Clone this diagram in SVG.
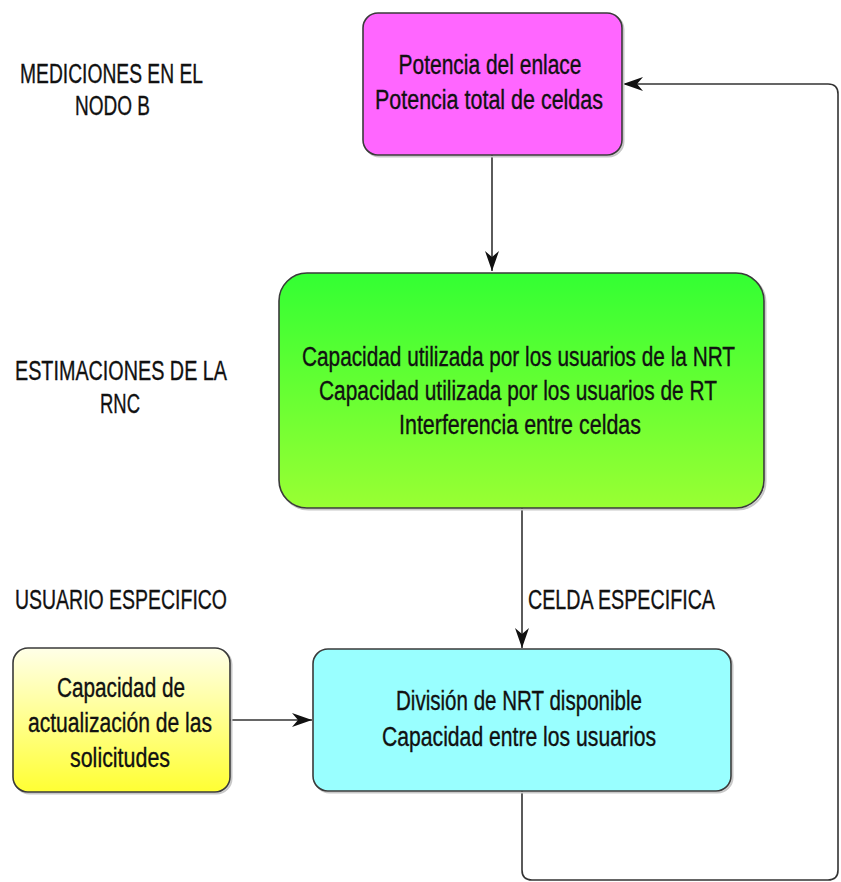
<svg xmlns="http://www.w3.org/2000/svg" width="841" height="882" viewBox="0 0 841 882">
<style>
  .box{stroke:#3a3a3a;stroke-width:1.6}
  .shadow{fill:none;stroke:#c8c8c8;stroke-width:2}
  .t{font-family:"Liberation Sans","Arial",sans-serif;font-size:27px;fill:#111;stroke:#111;stroke-width:0.35;text-anchor:middle}
  .lbl{font-family:"Liberation Sans","Arial",sans-serif;font-size:27px;fill:#111;stroke:#111;stroke-width:0.35}
  .conn{fill:none;stroke:#333;stroke-width:1.6}
</style>
<defs>
  <marker id="arr" markerUnits="userSpaceOnUse" viewBox="0 0 20 14" refX="20" refY="7" markerWidth="20" markerHeight="14" orient="auto">
    <path d="M0,0 L20,7 L0,14 L6,7 Z" fill="#111"/>
  </marker>
  <linearGradient id="gGreen" x1="0" y1="0" x2="0" y2="1">
    <stop offset="0" stop-color="#33ff33"/>
    <stop offset="1" stop-color="#99ff33"/>
  </linearGradient>
  <linearGradient id="gYellow" x1="0" y1="0" x2="0" y2="1">
    <stop offset="0" stop-color="#ffffe8"/>
    <stop offset="1" stop-color="#ffff33"/>
  </linearGradient>
</defs>
<rect width="841" height="882" fill="#ffffff"/>

<g id="labels">
  <text class="lbl" x="20" y="83" textLength="183" lengthAdjust="spacingAndGlyphs">MEDICIONES EN EL</text>
  <text class="lbl" x="75" y="115" textLength="75" lengthAdjust="spacingAndGlyphs">NODO B</text>
  <text class="lbl" x="15" y="380" textLength="212" lengthAdjust="spacingAndGlyphs">ESTIMACIONES DE LA</text>
  <text class="lbl" x="100" y="413" textLength="40" lengthAdjust="spacingAndGlyphs">RNC</text>
  <text class="lbl" x="15" y="609" textLength="212" lengthAdjust="spacingAndGlyphs">USUARIO ESPECIFICO</text>
  <text class="lbl" x="528" y="609" textLength="187" lengthAdjust="spacingAndGlyphs">CELDA ESPECIFICA</text>
</g>

<g id="connectors">
  <path class="conn" d="M492,155 L492,271" marker-end="url(#arr)"/>
  <path class="conn" d="M522,508 L522,648" marker-end="url(#arr)"/>
  <path class="conn" d="M230,720 L312,720" marker-end="url(#arr)"/>
  <path class="conn" d="M522,791 L522,870 Q522,880 532,880 L828,880 Q838,880 838,870 L838,94 Q838,84 828,84 L623,84" marker-end="url(#arr)"/>
</g>

<g id="node-potencia">
  <rect class="shadow" x="364.5" y="14.5" width="259" height="142" rx="15"/>
  <rect class="box" x="363" y="13" width="259" height="142" rx="15" fill="#ff66ff"/>
  <text class="t" x="490" y="74" textLength="183" lengthAdjust="spacingAndGlyphs">Potencia del enlace</text>
  <text class="t" x="489" y="109" textLength="228" lengthAdjust="spacingAndGlyphs">Potencia total de celdas</text>
</g>

<g id="node-capacidad">
  <rect class="shadow" x="280.5" y="274.5" width="485" height="235" rx="28"/>
  <rect class="box" x="279" y="273" width="485" height="235" rx="28" fill="url(#gGreen)"/>
  <text class="t" x="518.5" y="366" textLength="433" lengthAdjust="spacingAndGlyphs">Capacidad utilizada por los usuarios de la NRT</text>
  <text class="t" x="518" y="400" textLength="398" lengthAdjust="spacingAndGlyphs">Capacidad utilizada por los usuarios de RT</text>
  <text class="t" x="520" y="434" textLength="242" lengthAdjust="spacingAndGlyphs">Interferencia entre celdas</text>
</g>

<g id="node-actualizacion">
  <rect class="shadow" x="14.5" y="649.5" width="217" height="144" rx="15"/>
  <rect class="box" x="13" y="648" width="217" height="144" rx="15" fill="url(#gYellow)"/>
  <text class="t" x="121" y="697" textLength="128" lengthAdjust="spacingAndGlyphs">Capacidad de</text>
  <text class="t" x="120" y="732" textLength="184" lengthAdjust="spacingAndGlyphs">actualización de las</text>
  <text class="t" x="120" y="767" textLength="100" lengthAdjust="spacingAndGlyphs">solicitudes</text>
</g>

<g id="node-division">
  <rect class="shadow" x="314.5" y="650.5" width="418" height="142" rx="15"/>
  <rect class="box" x="313" y="649" width="418" height="142" rx="15" fill="#99ffff"/>
  <text class="t" x="519" y="710" textLength="246" lengthAdjust="spacingAndGlyphs">División de NRT disponible</text>
  <text class="t" x="519" y="746" textLength="274" lengthAdjust="spacingAndGlyphs">Capacidad entre los usuarios</text>
</g>
</svg>
